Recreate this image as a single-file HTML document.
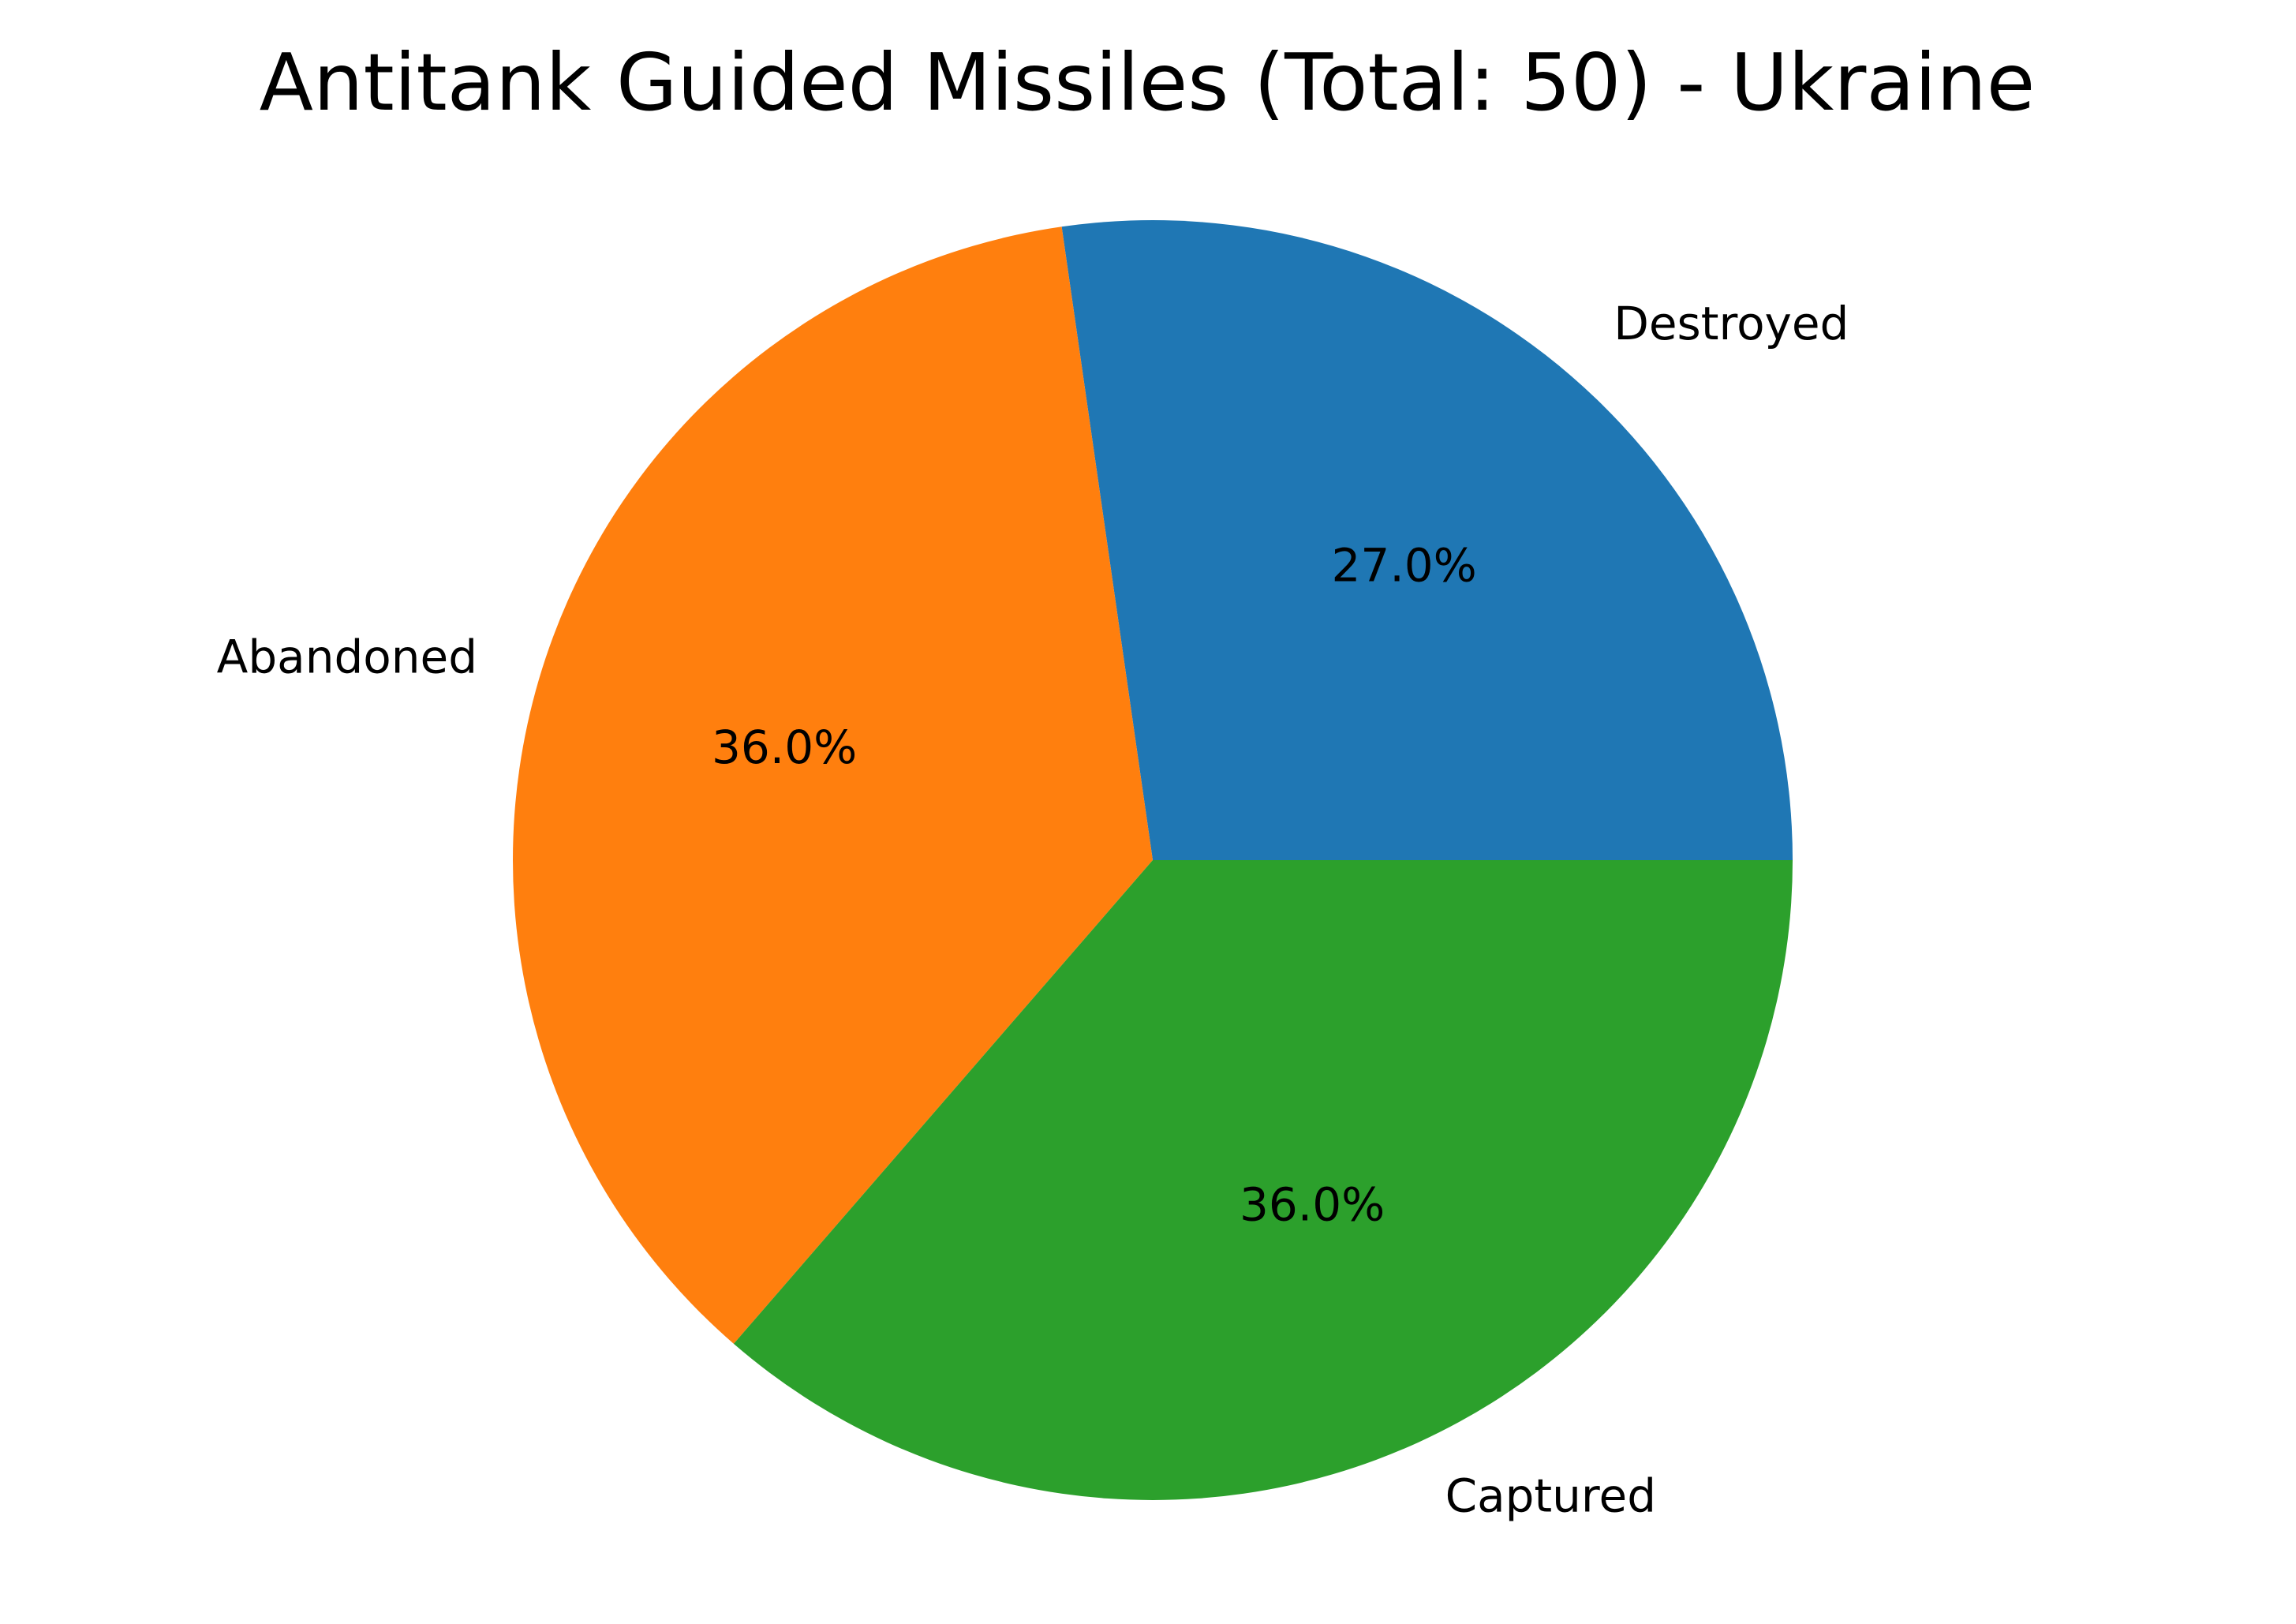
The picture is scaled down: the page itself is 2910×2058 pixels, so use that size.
<!DOCTYPE html>
<html><head><meta charset="utf-8"><style>
html,body{margin:0;padding:0;background:#fff;}
svg{display:block;}
text{font-family:"DejaVu Sans","Liberation Sans",sans-serif;fill:#000;}
</style></head><body>
<svg id="chart" width="2910" height="2058" viewBox="0 0 2910 2058" xmlns="http://www.w3.org/2000/svg">
<rect width="2910" height="2058" fill="#fff"/>
<text x="1454" y="139" font-size="100" text-anchor="middle">Antitank Guided Missiles (Total: 50) - Ukraine</text>
<g id="slices"></g>
<g id="labels"></g>
</svg>
<script>
const categories = ["Destroyed", "Abandoned", "Captured"];
const values = [27, 36, 36];
const pctLabels = ["27.0%", "36.0%", "36.0%"];
const colors = ["#1f77b4", "#ff7f0e", "#2ca02c"];
const cx = 1461, cy = 1090, R = 811;
const NS = "http://www.w3.org/2000/svg";
const total = values.reduce((a,b)=>a+b,0);
const sg = document.getElementById('slices');
const lg = document.getElementById('labels');
function pt(r, deg){ const a = deg*Math.PI/180; return [cx + r*Math.cos(a), cy - r*Math.sin(a)]; }
let start = 0;
values.forEach((v,i)=>{
  const sweep = v/total*360;
  const end = start + sweep;
  const p1 = pt(R,start), p2 = pt(R,end);
  const large = sweep > 180 ? 1 : 0;
  const path = document.createElementNS(NS,'path');
  path.setAttribute('d', `M${cx},${cy} L${p1[0]},${p1[1]} A${R},${R} 0 ${large} 0 ${p2[0]},${p2[1]} Z`);
  path.setAttribute('fill', colors[i]);
  
  
  sg.appendChild(path);
  const mid = start + sweep/2;
  const lp = pt(R*1.1, mid);
  const t = document.createElementNS(NS,'text');
  t.setAttribute('x', lp[0]); t.setAttribute('y', lp[1] - 6);
  t.setAttribute('font-size', '58');
  t.setAttribute('dominant-baseline', 'central');
  t.setAttribute('text-anchor', Math.cos(mid*Math.PI/180) >= 0 ? 'start' : 'end');
  t.textContent = categories[i];
  
  
  lg.appendChild(t);
  const pp = pt(R*0.6, mid);
  const t2 = document.createElementNS(NS,'text');
  t2.setAttribute('x', pp[0]); t2.setAttribute('y', pp[1] - 6);
  t2.setAttribute('font-size', '58');
  t2.setAttribute('dominant-baseline', 'central');
  t2.setAttribute('text-anchor', 'middle');
  t2.textContent = pctLabels[i];
  
  
  lg.appendChild(t2);
  start = end;
});
</script>
</body></html>
